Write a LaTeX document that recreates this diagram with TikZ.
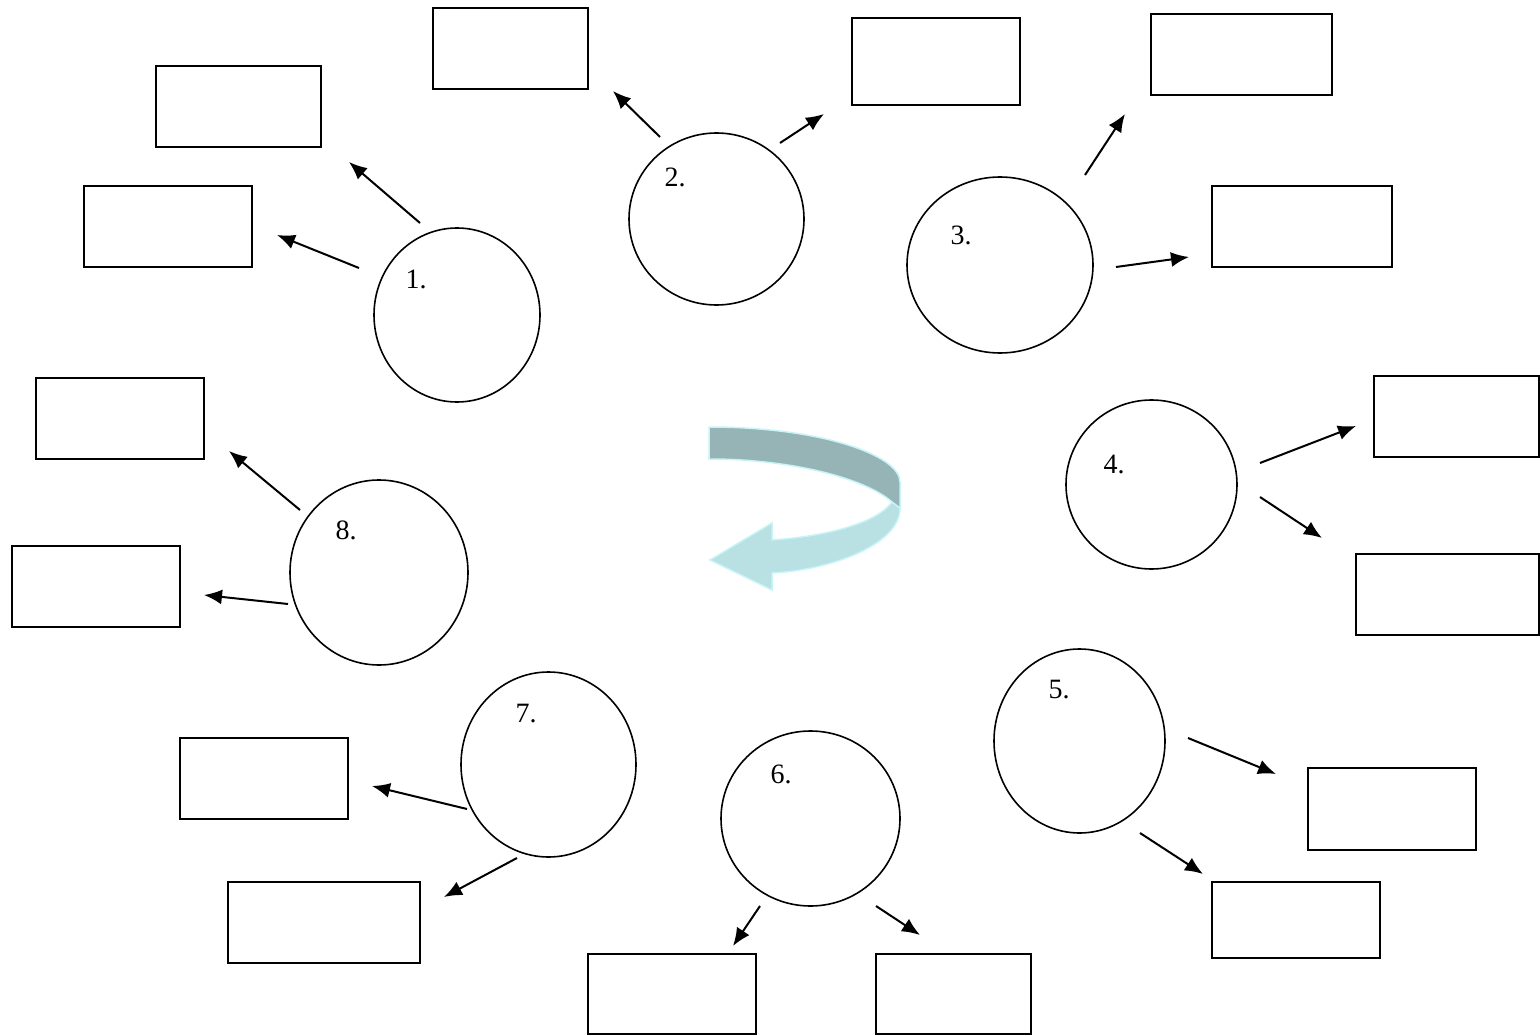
\documentclass[tikz,border=0pt]{standalone}
\usepackage{fontspec}
\setmainfont{Liberation Serif}
\usetikzlibrary{arrows.meta}
\begin{document}
\begin{tikzpicture}[x=1pt,y=-1pt,
  circ/.style={draw=black,line width=1.6pt},
  boxr/.style={draw=black,line width=1.8pt},
  lbl/.style={font=\fontsize{28}{32}\selectfont,inner sep=0pt},
  arr/.style={line width=2pt,-{Latex[length=18pt,width=15pt]}}]
\useasboundingbox (0,0) rectangle (1540,1035);
\definecolor{darkband}{HTML}{96B3B6}
\definecolor{lightband}{HTML}{B9E0E3}
\definecolor{bandedge}{HTML}{C6F4F7}
% circles
\draw[circ] (457,315) ellipse [x radius=83,y radius=87];
\draw[circ] (716.5,219) ellipse [x radius=87.5,y radius=86];
\draw[circ] (1000,265) ellipse [x radius=93,y radius=88];
\draw[circ] (1151.5,484.5) ellipse [x radius=85.5,y radius=84.5];
\draw[circ] (1079.5,741) ellipse [x radius=85.5,y radius=92];
\draw[circ] (810.5,818.5) ellipse [x radius=89.5,y radius=87.5];
\draw[circ] (548.5,764.5) ellipse [x radius=87.5,y radius=92.5];
\draw[circ] (379,572.5) ellipse [x radius=89,y radius=92.5];
% labels
\node[lbl] (l1) at (416,279) {1.};
\node[lbl] (l2) at (675,177) {2.};
\node[lbl] (l3) at (961,235) {3.};
\node[lbl] (l4) at (1114,464) {4.};
\node[lbl] (l5) at (1059,690) {5.};
\node[lbl] (l6) at (781,774) {6.};
\node[lbl] (l7) at (526,714) {7.};
\node[lbl] (l8) at (346,530) {8.};
% boxes
\draw[boxr] (156,66) rectangle (321,147);
\draw[boxr] (84,186) rectangle (252,267);
\draw[boxr] (433,8) rectangle (588,89);
\draw[boxr] (852,18) rectangle (1020,105);
\draw[boxr] (1151,14) rectangle (1332,95);
\draw[boxr] (1212,186) rectangle (1392,267);
\draw[boxr] (1374,376) rectangle (1539,457);
\draw[boxr] (1356,554) rectangle (1539,635);
\draw[boxr] (1308,768) rectangle (1476,850);
\draw[boxr] (1212,882) rectangle (1380,958);
\draw[boxr] (588,954) rectangle (756,1034);
\draw[boxr] (876,954) rectangle (1031,1034);
\draw[boxr] (180,738) rectangle (348,819);
\draw[boxr] (228,882) rectangle (420,963);
\draw[boxr] (36,378) rectangle (204,459);
\draw[boxr] (12,546) rectangle (180,627);
% arrow endpoints
\coordinate (s1a) at (420,223); \coordinate (t1a) at (349,162);
\coordinate (s1b) at (359,268); \coordinate (t1b) at (277,235);
\coordinate (s2a) at (660,137); \coordinate (t2a) at (613,91);
\coordinate (s2b) at (780,143); \coordinate (t2b) at (824,114);
\coordinate (s3a) at (1085,175); \coordinate (t3a) at (1125,114);
\coordinate (s3b) at (1116,267); \coordinate (t3b) at (1189,257);
\coordinate (s4a) at (1260,463); \coordinate (t4a) at (1356,426);
\coordinate (s4b) at (1260,497); \coordinate (t4b) at (1322,538);
\coordinate (s5a) at (1188,738); \coordinate (t5a) at (1276,774);
\coordinate (s5b) at (1140,833); \coordinate (t5b) at (1203,874);
\coordinate (s6a) at (760,906); \coordinate (t6a) at (733,946);
\coordinate (s6b) at (876,906); \coordinate (t6b) at (920,935);
\coordinate (s7a) at (467,809); \coordinate (t7a) at (372,786);
\coordinate (s7b) at (517,858); \coordinate (t7b) at (444,897);
\coordinate (s8a) at (300,510); \coordinate (t8a) at (229,451);
\coordinate (s8b) at (288,604); \coordinate (t8b) at (204,595);
\foreach \a in {1a,1b,2a,2b,3a,3b,4a,4b,5a,5b,6a,6b,7a,7b,8a,8b}
  \draw[arr] (s\a) -- (t\a);
% central curved arrow
\fill[lightband,draw=bandedge,line width=1.5pt]
  (892,502) -- (900,508) .. controls (900,545) and (830,570) .. (772,573)
  -- (772,590) -- (710,560) -- (772,523) -- (772,540)
  .. controls (830,536) and (878,522) .. (892,502) -- cycle;
\fill[darkband,draw=bandedge,line width=1.5pt]
  (709,427) .. controls (820,427) and (900,455) .. (900,482)
  -- (900,508) -- (892,502)
  .. controls (865,478) and (790,459) .. (709,459) -- cycle;
\end{tikzpicture}
\end{document}
